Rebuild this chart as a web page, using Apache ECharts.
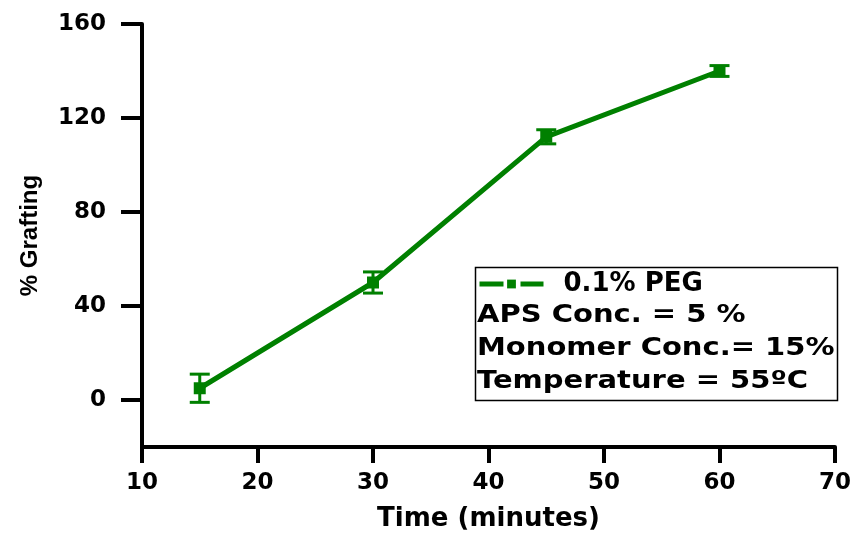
<!DOCTYPE html>
<html>
<head>
<meta charset="utf-8">
<script src="https://cdn.jsdelivr.net/npm/echarts@6/dist/echarts.min.js"></script>
<style>html,body{margin:0;padding:0;background:#fff}#c{width:856px;height:533px}</style>
</head>
<body>
<div id="c"></div>
<script>
var times = [15, 30, 45, 60];
var grafting = [5, 50, 112, 140];
var errors = [6, 4.5, 3, 2.3];
var yTicks = [0, 40, 80, 120, 160];
var seriesName = '0.1% PEG';
var notes = ['APS Conc. = 5 %', 'Monomer Conc.= 15%', 'Temperature = 55\u00BAC'];

var green = '#008000';
var lineData = times.map(function (t, i) { return [t, grafting[i]]; });
var errData = times.map(function (t, i) { return [t, grafting[i] - errors[i], grafting[i] + errors[i]]; });

var chart = echarts.init(document.getElementById('c'), null, {renderer: 'canvas'});
var axisFont = {fontFamily: 'DejaVu Sans', fontWeight: 'bold', fontSize: 23, color: '#000'};
var noteFont = 'bold 25px "DejaVu Sans"';

chart.setOption({
  animation: false,
  backgroundColor: '#fff',
  grid: {left: 142, right: 21, top: 24, bottom: 86, containLabel: false, outerBoundsMode: 'none'},
  legend: {
    data: [seriesName],
    left: 477, top: 271, padding: 0,
    itemWidth: 64, itemHeight: 11,
    lineStyle: {width: 5, color: green, type: [24, 17]},
    itemStyle: {color: green},
    textStyle: {fontFamily: 'DejaVu Sans', fontWeight: 'bold', fontSize: 26, color: '#000', padding: [0, 0, 0, 15]}
  },
  xAxis: {
    type: 'value', min: 10, max: 70, interval: 10,
    axisLine: {onZero: false, lineStyle: {color: '#000', width: 4}},
    axisTick: {length: 16, lineStyle: {color: '#000', width: 4}},
    axisLabel: Object.assign({margin: 25}, axisFont),
    splitLine: {show: false},
    name: 'Time (minutes)', nameLocation: 'middle', nameGap: 59,
    nameTextStyle: {fontFamily: 'DejaVu Sans', fontWeight: 'bold', fontSize: 26, color: '#000'}
  },
  yAxis: {
    type: 'value', min: -20, max: 160,
    axisLine: {show: true, onZero: false, lineStyle: {color: '#000', width: 4}},
    axisTick: {show: true, length: 21, lineStyle: {color: '#000', width: 4}, customValues: yTicks},
    axisLabel: Object.assign({margin: 36, customValues: yTicks}, axisFont),
    splitLine: {show: false},
    name: '% Grafting', nameLocation: 'middle', nameGap: 100, nameRotate: 90,
    nameTextStyle: {fontFamily: 'Liberation Sans', fontWeight: 'bold', fontSize: 24, color: '#000'}
  },
  graphic: [
    {type: 'rect', left: 473, top: 265, shape: {width: 362, height: 133}, style: {fill: 'none', stroke: '#000', lineWidth: 1.5}, z: 10},
    {type: 'text', x: 477, y: 315, scaleX: 1.16, style: {text: notes[0], font: noteFont, fill: '#000', verticalAlign: 'middle'}, z: 10},
    {type: 'text', x: 477, y: 348, scaleX: 1.16, style: {text: notes[1], font: noteFont, fill: '#000', verticalAlign: 'middle'}, z: 10},
    {type: 'text', x: 477, y: 381, scaleX: 1.16, style: {text: notes[2], font: noteFont, fill: '#000', verticalAlign: 'middle'}, z: 10}
  ],
  series: [
    {
      name: seriesName, type: 'line', data: lineData,
      symbol: 'rect', symbolSize: 12,
      lineStyle: {color: green, width: 5},
      itemStyle: {color: green},
      z: 3
    },
    {
      name: 'err', type: 'custom', data: errData, z: 4,
      renderItem: function (params, api) {
        var x = api.value(0);
        var lo = api.coord([x, api.value(1)]);
        var hi = api.coord([x, api.value(2)]);
        var hw = 10;
        var st = {stroke: green, lineWidth: 3};
        return {type: 'group', children: [
          {type: 'line', shape: {x1: lo[0], y1: lo[1], x2: hi[0], y2: hi[1]}, style: st},
          {type: 'line', shape: {x1: lo[0] - hw, y1: lo[1], x2: lo[0] + hw, y2: lo[1]}, style: st},
          {type: 'line', shape: {x1: hi[0] - hw, y1: hi[1], x2: hi[0] + hw, y2: hi[1]}, style: st}
        ]};
      }
    }
  ]
});
</script>
</body>
</html>
